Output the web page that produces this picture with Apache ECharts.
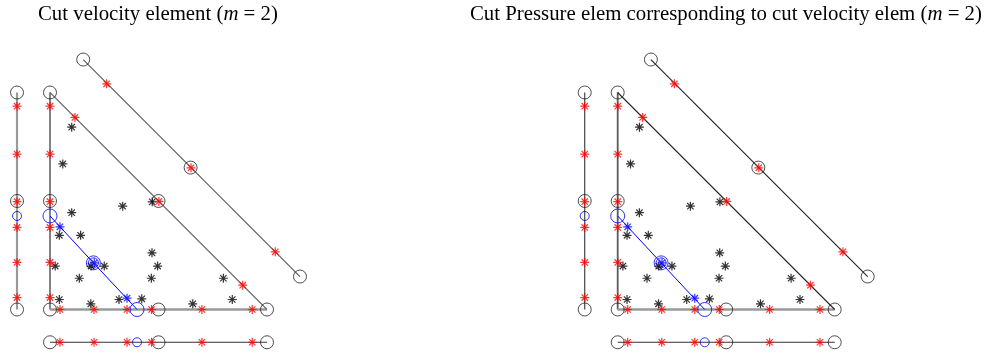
<!DOCTYPE html>
<html>
<head>
<meta charset="utf-8">
<script src="https://cdn.jsdelivr.net/npm/echarts@6/dist/echarts.min.js"></script>
<style>html,body{margin:0;padding:0;background:#fff}#c{width:991px;height:353px}</style>
</head>
<body>
<div id="c"></div>
<script>
// ---- data (reference element coordinates) ----
const titles = ['Cut velocity element', 'Cut Pressure elem corresponding to cut velocity elem'];
const triVertices = [[0, 1], [0, 0], [1, 0]];
const triCircles = [[0, 1], [0, 0.5], [0, 0], [0.5, 0], [1, 0]];
const hypMidCircle = [[0.5, 0.5]];
const vEdgeRedY = [0.055, 0.217, 0.378, 0.497, 0.716, 0.937];
const hEdgeRedX = [0.046, 0.203, 0.355, 0.468, 0.700, 0.932];
const hypRed = [[0.115, 0.885], [0.502, 0.498], [0.888, 0.112]];
const offsetCircles = [[0.153, 1.152], [0.648, 0.654], [1.152, 0.152]];
const offsetRed = [[0.261, 1.040], [0.650, 0.653], [1.038, 0.266]];
const projLineX = -0.152;
const projLineY = -0.151;
const projCircleVals = [0, 0.5, 1];
const cutY = 0.431;
const cutX = 0.401;
const blueMid = [0.2, 0.215];
const blueStars = [[0.046, 0.381], [0.204, 0.215], [0.355, 0.052]];
const interiorStars = [
  [0.100, 0.840], [0.059, 0.671], [0.335, 0.476], [0.471, 0.496], [0.100, 0.446],
  [0.043, 0.342], [0.141, 0.342], [0.470, 0.261], [0.024, 0.200], [0.189, 0.200],
  [0.250, 0.200], [0.496, 0.200], [0.135, 0.144], [0.467, 0.144], [0.799, 0.144],
  [0.043, 0.046], [0.188, 0.026], [0.318, 0.046], [0.423, 0.049], [0.658, 0.026],
  [0.840, 0.046]
];

// ---- styling / layout ----
const STAR = 'path://M0,-10L0,10M-10,0L10,0M-7.07,-7.07L7.07,7.07M-7.07,7.07L7.07,-7.07';
const scale = 217;
const xMin = -0.2, xMax = 1.25, yMin = -0.2, yMax = 1.3;
const origins = [[50, 309.5], [617.7, 309.5]];

function line(g, data, color, width, z) {
  return { type: 'line', xAxisIndex: g, yAxisIndex: g, data: data, symbol: 'none', silent: true,
    lineStyle: { color: color, width: width }, z: z || 2, animation: false };
}
function circles(g, data, color, size, bw) {
  return { type: 'scatter', xAxisIndex: g, yAxisIndex: g, data: data, symbol: 'circle', symbolSize: size,
    itemStyle: { color: 'rgba(0,0,0,0)', borderColor: color, borderWidth: bw || 1 }, z: 3, silent: true, animation: false };
}
function stars(g, data, color, size) {
  return { type: 'scatter', xAxisIndex: g, yAxisIndex: g, data: data, symbol: STAR, symbolSize: size,
    itemStyle: { color: 'none', borderColor: color, borderWidth: 1.2 }, z: 4, silent: true, animation: false };
}

const grids = [], xAxes = [], yAxes = [], series = [];
for (let g = 0; g < 2; g++) {
  const o = origins[g];
  grids.push({ left: o[0] + xMin * scale, top: o[1] - yMax * scale,
    width: (xMax - xMin) * scale, height: (yMax - yMin) * scale, containLabel: false });
  xAxes.push({ type: 'value', gridIndex: g, min: xMin, max: xMax, show: false });
  yAxes.push({ type: 'value', gridIndex: g, min: yMin, max: yMax, show: false });

  const right = g === 1;
  // projection lines
  series.push(line(g, [[projLineX, 0], [projLineX, 1]], right ? '#444' : '#9a9a9a', right ? 1.2 : 2.2));
  series.push(line(g, [[0, projLineY], [1, projLineY]], '#333', 1.1));
  // triangle edges
  series.push(line(g, [triVertices[0], triVertices[1]], right ? '#8a8a8a' : '#333', right ? 2 : 1.2));
  if (right) series.push(line(g, [triVertices[0], triVertices[1]], '#444', 0.8));
  series.push(line(g, [triVertices[1], triVertices[2]], '#9a9a9a', 2.4));
  series.push(line(g, [triVertices[0], triVertices[2]], right ? '#222' : '#666', 1.1));
  // offset hypotenuse
  series.push(line(g, [offsetCircles[0], offsetCircles[2]], right ? '#222' : '#555', 1.1));
  // cut line
  series.push(line(g, [[0, cutY], blueMid, [cutX, 0]], '#0000ff', 1, 3));

  // circles
  series.push(circles(g, triCircles, '#222', 13));
  if (!right) series.push(circles(g, hypMidCircle, '#222', 13));
  series.push(circles(g, offsetCircles, '#222', 13));
  series.push(circles(g, projCircleVals.map(v => [projLineX, v]), '#222', 13));
  series.push(circles(g, projCircleVals.map(v => [v, projLineY]), '#222', 13));
  series.push(circles(g, [[0, cutY], [cutX, 0], blueMid], '#0000ff', 14));
  series.push(circles(g, [blueMid], '#0000ff', 10));
  series.push(circles(g, [[projLineX, cutY], [cutX, projLineY]], '#0000ff', 9));

  // asterisks
  series.push(stars(g, interiorStars, '#000', 9));
  const reds = []
    .concat(vEdgeRedY.map(v => [0, v]))
    .concat(vEdgeRedY.map(v => [projLineX, v]))
    .concat(hEdgeRedX.map(v => [v, 0]))
    .concat(hEdgeRedX.map(v => [v, projLineY]))
    .concat(hypRed)
    .concat(offsetRed);
  series.push(stars(g, reds, '#ff0000', 9));
  series.push(stars(g, blueStars, '#0000ff', 9));
}

const font = '"Liberation Serif", "DejaVu Serif", serif';
const FS = 20.8;
const richStyles = {
  a: { fontFamily: font, fontSize: FS, color: '#000', lineHeight: 24 },
  i: { fontFamily: font, fontSize: FS, fontStyle: 'italic', color: '#000', lineHeight: 24 }
};
const chart = echarts.init(document.getElementById('c'), null, { renderer: 'canvas' });
chart.setOption({
  animation: false,
  backgroundColor: '#fff',
  title: [
    { text: '{a|' + titles[0] + ' (}{i|m}{a| = 2)}', left: 38, top: 0, padding: [3, 0, 0, 0],
      textStyle: { fontFamily: font, fontSize: FS, fontWeight: 'normal', color: '#000', lineHeight: 24, rich: richStyles } },
    { text: '{a|' + titles[1] + ' (}{i|m}{a| = 2)}', left: 470, top: 0, padding: [3, 0, 0, 0],
      textStyle: { fontFamily: font, fontSize: FS, fontWeight: 'normal', color: '#000', lineHeight: 24, rich: richStyles } }
  ],
  grid: grids,
  xAxis: xAxes,
  yAxis: yAxes,
  series: series
});
</script>
</body>
</html>
